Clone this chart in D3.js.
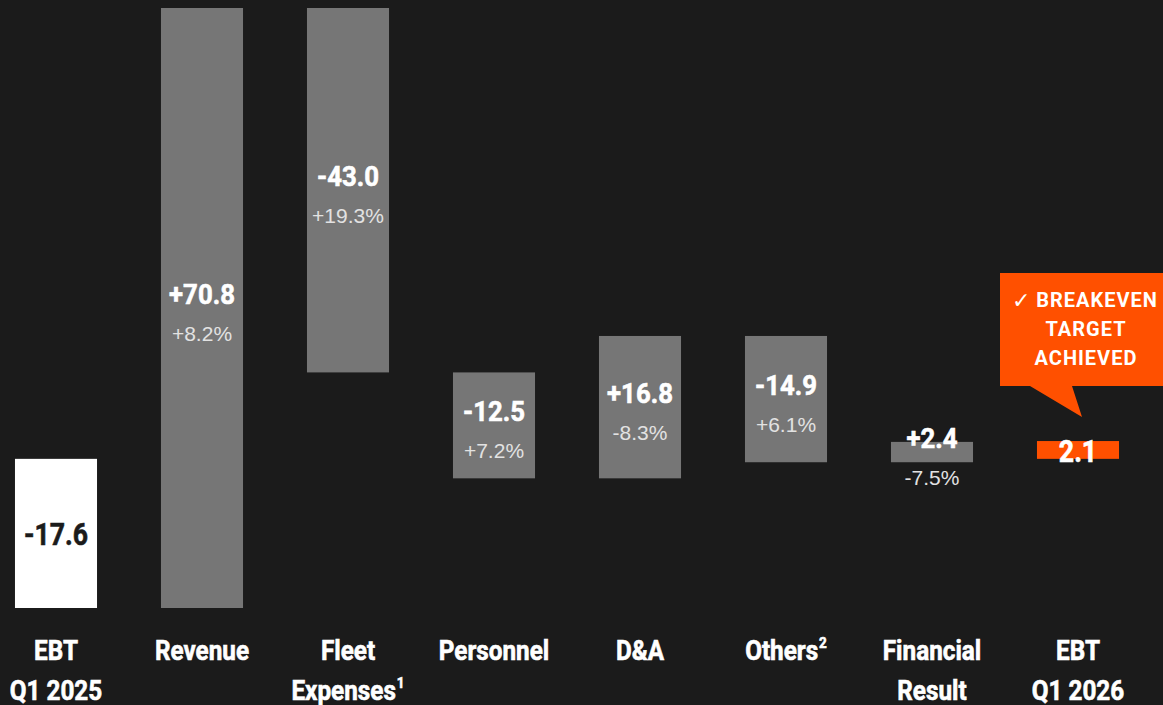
<!DOCTYPE html>
<html>
<head>
<meta charset="utf-8">
<script src="https://cdn.jsdelivr.net/npm/d3@7"></script>
<style>
  html, body { margin: 0; padding: 0; background: #1b1b1b; }
  svg { display: block; }
</style>
</head>
<body>
<div id="chart-area"></div>
<script>
// Data
var categories = ["EBT|Q1 2025", "Revenue", "Fleet|Expenses", "Personnel", "D&A", "Others", "Financial|Result", "EBT|Q1 2026"];
var footnotes = ["", "", "1", "", "", "2", "", ""];
var values = [-17.6, 70.8, -43.0, -12.5, 16.8, -14.9, 2.4, 2.1];
var kinds = ["total", "step", "step", "step", "step", "step", "step", "total"];
var pctLabels = ["", "+8.2%", "+19.3%", "+7.2%", "-8.3%", "+6.1%", "-7.5%", ""];
var calloutLines = ["BREAKEVEN", "TARGET", "ACHIEVED"];

var width = 1163;
var height = 705;
var heavy = "Roboto, 'DejaVu Sans', sans-serif";

// build waterfall
var running = 0;
var data = values.map(function (v, i) {
    var d = { cat: categories[i], value: v, kind: kinds[i], pct: pctLabels[i], note: footnotes[i], i: i };
    if (kinds[i] == "total") {
        d.y0 = 0; d.y1 = v;
        running = v;
    } else {
        d.y0 = running; d.y1 = running + v;
        running = d.y1;
    }
    return d;
});

var svg = d3.select("#chart-area")
    .append("svg")
    .attr("width", width)
    .attr("height", height);

// SCALES
var x = d3.scaleBand()
    .domain(d3.range(categories.length))
    .range([-17, 1151])
    .paddingInner(0.438)
    .paddingOuter(0.219);

var y = d3.scaleLinear()
    .domain([-17.6, 53.2])
    .range([608, 8]);

function cx(d) { return x(d.i) + x.bandwidth() / 2; }
function mid(d) { return (y(d.y0) + y(d.y1)) / 2; }

// bars
svg.selectAll("rect.bar").data(data)
    .enter()
    .append("rect")
    .attr("class", "bar")
    .attr("x", function (d) { return x(d.i); })
    .attr("y", function (d) { return y(Math.max(d.y0, d.y1)); })
    .attr("width", x.bandwidth())
    .attr("height", function (d) { return Math.abs(y(d.y0) - y(d.y1)); })
    .attr("fill", function (d) {
        if (d.i == 0) return "#ffffff";
        if (d.i == categories.length - 1) return "#ff5000";
        return "#767676";
    });

function fmt(d) {
    var s = Math.abs(d.value).toFixed(1);
    if (d.value < 0) return "-" + s;
    return d.kind == "step" ? "+" + s : s;
}

// value labels
svg.selectAll("text.val").data(data)
    .enter()
    .append("text")
    .attr("class", "val")
    .attr("transform", function (d) {
        var yy = d.kind == "total" ? mid(d) + 12 : mid(d) - 4;
        var sx = d.kind == "total" ? 0.86 : 0.92;
        return "translate(" + cx(d) + "," + yy + ") scale(" + sx + ",1)";
    })
    .attr("text-anchor", "middle")
    .attr("font-family", heavy)
    .attr("font-weight", "bold")
    .attr("font-size", function (d) { return d.kind == "total" ? "31px" : "28px"; })
    .style("fill", function (d) { return d.i == 0 ? "#1b1b1b" : "#ffffff"; })
    .style("stroke", function (d) { return d.i == 0 ? "#1b1b1b" : "#ffffff"; })
    .style("stroke-width", 0.6)
    .text(fmt);

// percent labels
svg.selectAll("text.pct").data(data.filter(function (d) { return d.pct != ""; }))
    .enter()
    .append("text")
    .attr("class", "pct")
    .attr("x", cx)
    .attr("y", function (d) { return mid(d) + 33; })
    .attr("text-anchor", "middle")
    .attr("font-family", "'Liberation Sans', Arial, sans-serif")
    .attr("font-size", "21px")
    .style("fill", "#e2e2e2")
    .text(function (d) { return d.pct; });

// category labels
svg.selectAll("g.cat").data(data)
    .enter()
    .append("g")
    .attr("class", "cat")
    .attr("transform", function (d) { return "translate(" + cx(d) + ",0) scale(0.9,1)"; })
    .each(function (d) {
        var lines = d.cat.split("|");
        var g = d3.select(this);
        lines.forEach(function (line, k) {
            var t = g.append("text")
                .attr("x", 0)
                .attr("y", 660 + k * 40)
                .attr("text-anchor", "middle")
                .attr("font-family", heavy)
                .attr("font-weight", "bold")
                .attr("font-size", "27px")
                .style("fill", "#ffffff")
                .style("stroke", "#ffffff")
                .style("stroke-width", 0.6);
            t.append("tspan").text(line);
            if (d.note != "" && k == lines.length - 1) {
                t.append("tspan")
                    .attr("font-size", "15px")
                    .attr("dy", -12)
                    .attr("dx", 1)
                    .text(d.note);
            }
        });
    });

// callout
var last = data[data.length - 1];
var tipX = cx(last) + 4;
var tipY = y(last.y1) - 24;
var box = { x0: 1000, y0: 273, x1: 1170, y1: 386 };

svg.append("path")
    .attr("d", "M" + box.x0 + "," + box.y0 +
        " L" + box.x1 + "," + box.y0 +
        " L" + box.x1 + "," + box.y1 +
        " L" + (tipX - 10) + "," + box.y1 +
        " L" + tipX + "," + tipY +
        " L" + (tipX - 52) + "," + box.y1 +
        " L" + box.x0 + "," + box.y1 + " Z")
    .attr("fill", "#ff5000");

svg.selectAll("text.callout").data(calloutLines)
    .enter()
    .append("text")
    .attr("class", "callout")
    .attr("x", function (d, k) { return k == 0 ? 1097 : 1086; })
    .attr("y", function (d, k) { return 307 + k * 29; })
    .attr("text-anchor", "middle")
    .attr("font-family", heavy)
    .attr("font-weight", "bold")
    .attr("font-size", "20px")
    .attr("letter-spacing", "1px")
    .style("fill", "#ffffff")
    .text(function (d) { return d; });

// check mark in front of the first line
svg.append("text")
    .attr("x", 1012)
    .attr("y", 308)
    .attr("font-family", "'DejaVu Sans', sans-serif")
    .attr("font-size", "22px")
    .style("fill", "#ffffff")
    .text("\u2713");
</script>
</body>
</html>
